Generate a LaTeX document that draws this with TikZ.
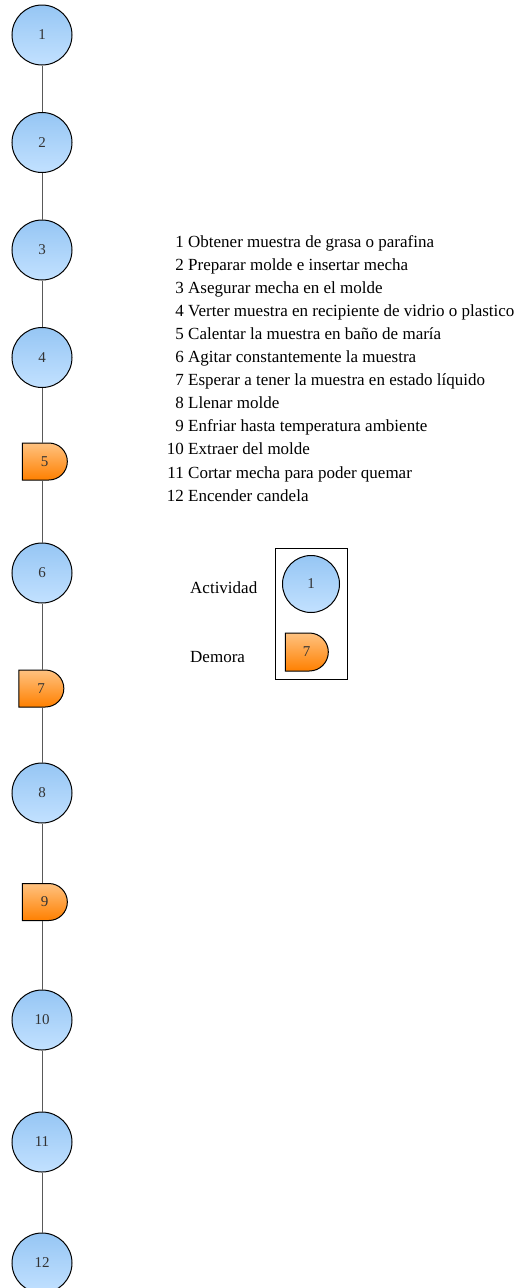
\documentclass[tikz,border=0pt]{standalone}
\usepackage{fontspec}
\setmainfont{Liberation Serif}
\usetikzlibrary{shapes.misc,positioning}

\definecolor{actTop}{RGB}{150,198,244}
\definecolor{actBot}{RGB}{194,225,255}
\definecolor{demTop}{RGB}{255,194,128}
\definecolor{demBot}{RGB}{255,128,0}

\begin{document}
\begin{tikzpicture}[x=1pt, y=-1pt,
  act/.style={circle, draw=black, line width=1pt, top color=actTop, bottom color=actBot,
    minimum size=60pt, inner sep=0pt, text=black!80, font=\fontsize{15}{15}\selectfont},
  dem/.style={rounded rectangle, rounded rectangle west arc=none, draw=black, line width=1pt,
    top color=demTop, bottom color=demBot, minimum width=45pt, minimum height=37pt,
    inner sep=0pt, text=black!80, font=\fontsize{15}{15}\selectfont},
  link/.style={draw=black!65, line width=1pt},
  lbl/.style={inner sep=0pt, font=\fontsize{17}{20}\selectfont}]
  \useasboundingbox (0,0) rectangle (520,1288);

  \foreach \i/\y in {1/35,2/142.5,3/250,4/357.5,6/573,8/793,10/1020,11/1142,12/1263}
    \node[act] (n\i) at (42,\y) {\i};
  \node[dem] (n5) at (44.5,461.5) {5};
  \node[dem] (n7) at (41,688.5) {7};
  \node[dem] (n9) at (44.5,902) {9};
  \foreach \i [remember=\i as \k (initially 1)] in {2,...,12}
    \draw[link] (n\k.south -| n1.center) -- (n\i.north -| n1.center);

  \foreach \i/\t [count=\k from 0] in {1/Obtener muestra de grasa o parafina,
      2/Preparar molde e insertar mecha, 3/Asegurar mecha en el molde,
      4/Verter muestra en recipiente de vidrio o plastico,
      5/Calentar la muestra en baño de maría, 6/Agitar constantemente la muestra,
      7/Esperar a tener la muestra en estado líquido, 8/Llenar molde,
      9/Enfriar hasta temperatura ambiente, 10/Extraer del molde,
      11/Cortar mecha para poder quemar, 12/Encender candela} {
    \node[lbl, anchor=base east] (num\i) at (184,247+\k*23.1) {\i};
    \node[lbl, anchor=base west] (txt\i) at (188,247+\k*23.1) {\t};
  }

  \draw (275,548) rectangle (347,679);
  \node[act, minimum size=57pt] (legact) at (311,584) {1};
  \node[dem, minimum width=43pt, minimum height=38pt] (legdem) at (306.5,652) {7};
  \node[lbl, anchor=west] (actividad) at (190,588) {Actividad};
  \node[lbl, anchor=west] (demora) at (190,657) {Demora};
\end{tikzpicture}
\end{document}
